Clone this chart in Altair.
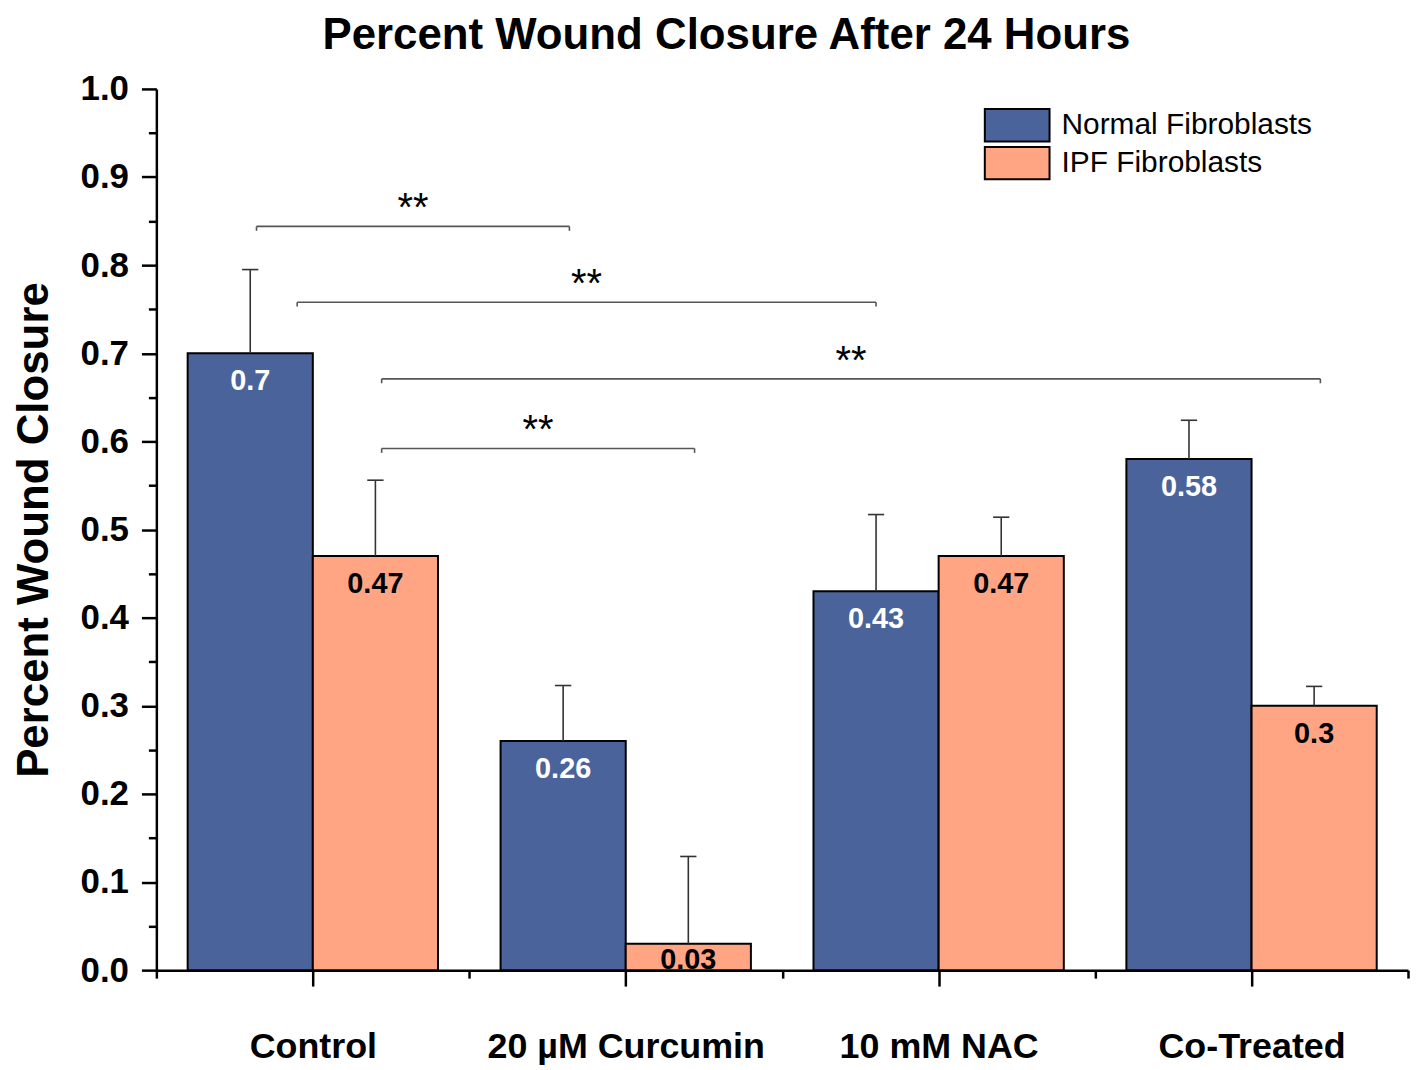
import json
import altair as alt
import pandas as pd

# ---- data ----
categories = ["Control", "20 µM Curcumin", "10 mM NAC", "Co-Treated"]
series = ["Normal Fibroblasts", "IPF Fibroblasts"]
normal_vals = [0.70, 0.26, 0.43, 0.58]
ipf_vals = [0.47, 0.03, 0.47, 0.30]
normal_err = [0.095, 0.063, 0.087, 0.044]
ipf_err = [0.086, 0.099, 0.044, 0.022]
bar_colors = ["#4B639B", "#FFA584"]
label_colors = ["white", "black"]

# significance brackets (x in category-slot units, y in data units)
br_left = [0.32, 0.45, 0.72, 0.72]
br_right = [1.32, 2.30, 3.72, 1.72]
br_y = [0.844, 0.758, 0.671, 0.592]
br_text = ["**", "**", "**", "**"]

FONT = "Liberation Sans"

values = [normal_vals, ipf_vals]
errs = [normal_err, ipf_err]
rows = []
for i, cat in enumerate(categories):
    for j, s in enumerate(series):
        v = values[j][i]
        x0 = i + 0.1 + 0.4 * j
        rows.append(dict(category=cat, series=s, x0=x0, x1=x0 + 0.4, xc=x0 + 0.2,
                         value=v, upper=v + errs[j][i], label=f"{v:g}"))
df = pd.DataFrame(rows)
bdf = pd.DataFrame(dict(l=br_left, r=br_right, y=br_y, t=br_text))

xs = alt.Scale(domain=[0, len(categories)], nice=False, zero=False)
ys = alt.Scale(domain=[0, 1], nice=False)

cat_js = json.dumps(categories, ensure_ascii=False)
x_axis = alt.Axis(
    values=[k / 2 for k in range(2 * len(categories) + 1)],
    labelExpr=f"datum.value % 1 == 0.5 ? {cat_js}[floor(datum.value)] : ''",
    tickSize={"condition": {"test": "datum.value % 1 == 0.5", "value": 16}, "value": 8},
    labelFont=FONT, labelFontSize=36, labelFontWeight="bold", labelColor="black",
    labelPadding=44, labelOverlap=False, labelFlush=False, labelBound=False,
    labelLimit=500,
    domainColor="black", domainWidth=2.5, tickColor="black", tickWidth=2.5,
    grid=False, title=None,
)
y_axis = alt.Axis(
    values=[k / 20 for k in range(21)],
    labelExpr="round(datum.value*20) % 2 == 0 ? format(datum.value, '.1f') : ''",
    tickSize={"condition": {"test": "round(datum.value*20) % 2 == 0", "value": 15}, "value": 8},
    labelFont=FONT, labelFontSize=35, labelFontWeight="bold", labelColor="black",
    labelPadding=13, labelOverlap=False, labelFlush=False,
    domainColor="black", domainWidth=2.5, tickColor="black", tickWidth=2.5,
    grid=False,
    title="Percent Wound Closure", titleFont=FONT, titleFontSize=44,
    titleFontWeight="bold", titleColor="black", titlePadding=24,
)

base = alt.Chart(df)

bars = base.mark_bar(stroke="black", strokeWidth=2).encode(
    x=alt.X("x0:Q", scale=xs, axis=x_axis),
    x2="x1:Q",
    y=alt.Y("value:Q", scale=ys, axis=y_axis),
    y2=alt.datum(0),
    color=alt.Color("series:N", scale=alt.Scale(domain=series, range=bar_colors),
                    legend=alt.Legend(
                        orient="none", legendX=847, legendY=19, title=None,
                        symbolType="M-2,-1H2V1H-2Z", symbolSize=1056,
                        symbolStrokeColor="black", symbolStrokeWidth=2, symbolOpacity=1,
                        labelFont=FONT, labelFontSize=30, labelColor="black",
                        labelLimit=400, labelOffset=27, rowPadding=-5)),
)

err_stem = base.mark_rule(color="#333333", strokeWidth=1.6).encode(
    x=alt.X("xc:Q", scale=xs, axis=x_axis),
    y=alt.Y("value:Q", scale=ys, axis=y_axis),
    y2="upper:Q",
)
err_cap = base.transform_calculate(
    cl="datum.xc - 0.026", cr="datum.xc + 0.026"
).mark_rule(color="#333333", strokeWidth=1.6).encode(
    x=alt.X("cl:Q", scale=xs, axis=x_axis),
    x2="cr:Q",
    y=alt.Y("upper:Q", scale=ys, axis=y_axis),
)

labels = base.transform_calculate(
    ly="max(datum.value - 0.032, 0.011)"
).mark_text(font=FONT, fontSize=29, fontWeight="bold", baseline="middle", align="center").encode(
    x=alt.X("xc:Q", scale=xs, axis=x_axis),
    y=alt.Y("ly:Q", scale=ys, axis=y_axis),
    text="label:N",
    color=alt.condition(alt.datum.series == series[0], alt.value(label_colors[0]),
                        alt.value(label_colors[1])),
)

bbase = alt.Chart(bdf)
br_line = bbase.mark_rule(color="#555555", strokeWidth=1.6).encode(
    x=alt.X("l:Q", scale=xs, axis=x_axis), x2="r:Q",
    y=alt.Y("y:Q", scale=ys, axis=y_axis),
)
br_tl = bbase.transform_calculate(y2="datum.y - 0.005").mark_rule(
    color="#555555", strokeWidth=1.6).encode(
    x=alt.X("l:Q", scale=xs, axis=x_axis),
    y=alt.Y("y:Q", scale=ys, axis=y_axis), y2="y2:Q",
)
br_tr = bbase.transform_calculate(y2="datum.y - 0.005").mark_rule(
    color="#555555", strokeWidth=1.6).encode(
    x=alt.X("r:Q", scale=xs, axis=x_axis),
    y=alt.Y("y:Q", scale=ys, axis=y_axis), y2="y2:Q",
)
stars = bbase.transform_calculate(m="(datum.l + datum.r) / 2").mark_text(
    font=FONT, fontSize=40, baseline="alphabetic", align="center", color="black", dy=-5
).encode(
    x=alt.X("m:Q", scale=xs, axis=x_axis),
    y=alt.Y("y:Q", scale=ys, axis=y_axis),
    text="t:N",
)

chart = alt.layer(
    bars, err_stem, err_cap, labels, br_line, br_tl, br_tr, stars
).properties(
    width=1257, height=885,
    title=alt.TitleParams("Percent Wound Closure After 24 Hours", font=FONT, fontSize=44,
                          fontWeight="bold", color="black", anchor="middle", dx=-56,
                          offset=14),
    autosize=alt.AutoSizeParams(type="none"),
    padding={"left": 149, "top": 79, "right": 2, "bottom": 95},
).configure_view(stroke=None)

chart.save("out.html", embed_options={"renderer": "svg", "actions": False})
